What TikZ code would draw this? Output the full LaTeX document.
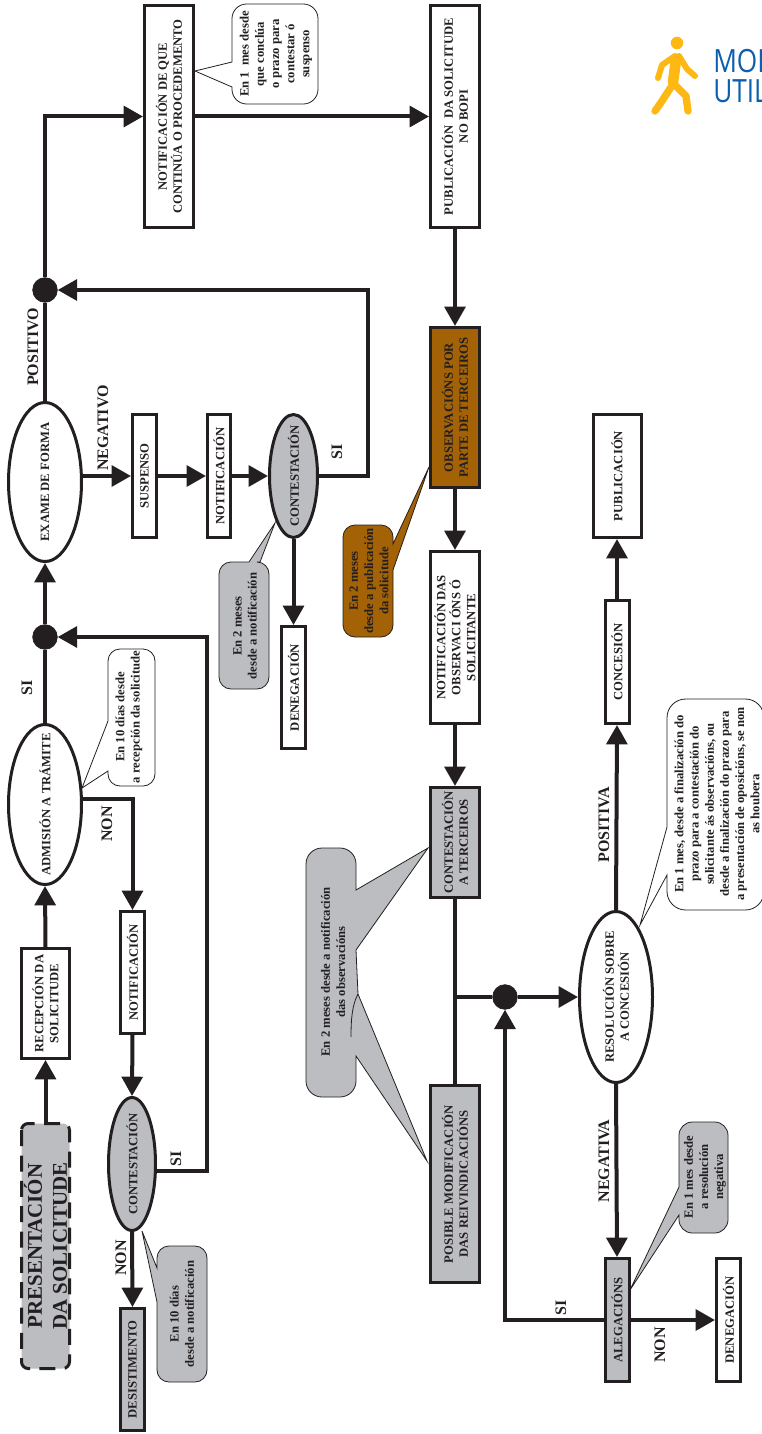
\documentclass[tikz,border=0pt]{standalone}
\usepackage{fontspec}
\setmainfont{Liberation Serif}
\newfontfamily\logofont[FakeStretch=0.82]{Open Sans}
\usetikzlibrary{arrows.meta,shapes.geometric}
\definecolor{ink}{HTML}{231F20}
\definecolor{pale}{HTML}{BBBDC0}
\definecolor{ochre}{HTML}{A46206}
\definecolor{walker}{HTML}{FDB813}
\definecolor{logoblue}{HTML}{0B5FAD}
\newcommand\zw[1]{\makebox[0pt]{#1}}
\tikzset{
  x=0.75pt,y=-0.75pt,
  sz/.style n args={2}{minimum width=#1*0.75pt-2.25pt,minimum height=#2*0.75pt-2.25pt},
  basenode/.style={rotate=90,inner sep=0pt,align=center,text=ink,line width=2.25pt,draw=ink,
    font=\fontsize{9.5}{11.25}\selectfont\bfseries},
  bx/.style={basenode,rectangle,fill=white},
  bxpale/.style={bx,fill=pale},
  bxochre/.style={bx,fill=ochre},
  ell/.style={basenode,ellipse,fill=white},
  ellpale/.style={ell,fill=pale},
  dot/.style={circle,fill=ink,draw=ink,line width=0.5pt,minimum size=18.5pt,inner sep=0pt},
  flow/.style={line width=3pt,draw=ink,line join=miter},
  arr/.style={flow,-{Triangle[length=14.5pt,width=15.5pt]}},
  lbl/.style={rotate=90,inner sep=0pt,text=ink,font=\fontsize{12}{14}\selectfont\bfseries},
  notetext/.style={rotate=90,inner sep=0pt,align=center,text=ink,
    font=\fontsize{9.5}{11.4}\selectfont\bfseries},
  cw/.style={draw=ink,line width=0.6pt,fill=white,line join=miter},
  cp/.style={cw,fill=pale},
  co/.style={cw,fill=ochre},
  limb/.style={draw=walker,line cap=round,line join=round},
}
\begin{document}
\begin{tikzpicture}
\useasboundingbox (0,0) rectangle (761,1434);
% callouts
\draw[cw] (232,62) [rounded corners=11pt] -- (232,4) -- (318,4) -- (318,104) -- (232,104) [sharp corners] -- (232,87) -- (195,71) -- cycle;
\draw[cw] (108,721) [rounded corners=9pt] -- (108,649) -- (155,649) -- (155,786) -- (108,786) [sharp corners] -- (108,771) -- (82,788) -- cycle;
\draw[cp] (249,562) [rounded corners=9pt] -- (219,562) -- (219,689) -- (269,689) -- (269,562) [sharp corners] -- (260,562) -- (275,523) -- cycle;
\draw[cp] (157,1268) [rounded corners=9pt] -- (157,1246) -- (207,1246) -- (207,1382) -- (157,1382) [sharp corners] -- (157,1302) -- (142,1231) -- cycle;
\draw[co] (393,544) [rounded corners=9pt] -- (393,525) -- (343,525) -- (343,637) -- (393,637) [sharp corners] -- (393,570) -- (429,467) -- cycle;
\draw[cp] (356,890) -- (428,848) -- (356,950) -- (358,994) -- (427,1161) -- (356,1056) [rounded corners=12pt] -- (356,1097) -- (306,1097) -- (306,848) -- (356,848) [sharp corners] -- cycle;
\draw[draw=ink,line width=0.6pt] (358,994) .. controls (352,1005) and (351,1020) .. (351,1037);
\draw[cw] (667,827) [rounded corners=14pt] -- (667,699) -- (764,699) -- (764,910) -- (667,910) [sharp corners] -- (667,875) -- (640,925) -- cycle;
\draw[cp] (679,1187) [rounded corners=10pt] -- (679,1122) -- (728,1122) -- (728,1233) -- (679,1233) [sharp corners] -- (679,1215) -- (630,1290) -- cycle;
% callout texts
\node[notetext] (t1) at (276,54) {En 1 \ mes desde\\que conclúa\\o prazo para\\contestar ó\\suspenso};
\node[notetext] (t2) at (129,717) {En 10 días desde\\a recepción da solicitude};
\node[notetext] (t3) at (245,626) {En 2 meses\\desde a notificación};
\node[notetext] (t4) at (182,1314) {En 10 días\\desde a notificación};
\node[notetext] (t5) at (369,581) {En 2 meses\\desde a publicación\\da solicitude};
\node[notetext] (t6) at (333,972) {En 2 meses desde a notificación\\das observacións};
\node[notetext] (t7) at (717,804) {En 1 mes, desde a finalización do\\prazo para a contestación do\\solicitante ás observacións, ou\\desde a finalización do prazo para\\a presentación de oposicións, se non\\as houbera};
\node[notetext] (t8) at (705,1177) {En 1 mes desde\\a resolución\\negativa};
% nodes
\node[bxpale,sz={248}{51},dash pattern=on 12pt off 7pt,rounded corners=5pt,font=\fontsize{15.7}{18.9}\selectfont\bfseries] (pres) at (45.5,1246) {PRESENTACIÓN\\DA SOLICITUDE};
\node[bx,sz={113}{51}] (rec) at (45.5,1003.5) {RECEPCIÓN DA\\SOLICITUDE};
\node[ell,sz={163}{76}] (adm) at (45,804.5) {\zw{ADMISIÓN A TRÁMITE}};
\node[dot] (j1) at (45,637) {};
\node[ell,sz={162}{76}] (ex) at (45,482) {\zw{EXAME DE FORMA}};
\node[dot] (j2) at (45,290) {};
\node[bx,sz={225}{52}] (nc) at (169,116.5) {NOTIFICACIÓN DE QUE\\CONTINÚA O PROCEDEMENTO};
\node[bx,sz={225}{52}] (pb) at (455,116.5) {PUBLICACIÓN \ DA SOLICITUDE\\NO BOPI};
\node[bxochre,sz={163}{52}] (ob) at (455,407.5) {OBSERVACIÓNS POR\\PARTE DE TERCEIROS};
\node[bx,sz={175}{52}] (nd) at (455,637.5) {NOTIFICACIÓN DAS\\OBSERVACI ÓNS Ó\\SOLICITANTE};
\node[bxpale,sz={113}{52}] (ct) at (455,842.5) {CONTESTACIÓN\\A TERCEIROS};
\node[bxpale,sz={200}{52}] (pm) at (455,1184) {POSIBLE MODIFICACIÓN\\DAS REIVINDICACIÓNS};
\node[bx,sz={126}{27}] (su) at (144.5,476) {SUSPENSO};
\node[bx,sz={126}{26}] (n2) at (219,476) {NOTIFICACIÓN};
\node[ellpale,sz={126}{51}] (c1) at (293.5,476) {\zw{CONTESTACIÓN}};
\node[bx,sz={125}{27}] (d1) at (293.5,687.5) {DENEGACIÓN};
\node[bx,sz={125}{27}] (n1) at (132.5,972.5) {NOTIFICACIÓN};
\node[ellpale,sz={136}{50}] (c2) at (132,1164) {\zw{CONTESTACIÓN}};
\node[bxpale,sz={125}{27}] (de) at (132.5,1369.5) {DESISTIMENTO};
\node[bx,sz={126}{51}] (pu) at (617,476) {PUBLICACIÓN};
\node[bx,sz={126}{27}] (cn) at (617,662) {CONCESIÓN};
\node[ell,sz={174}{76}] (rs) at (616,997) {\zw{RESOLUCIÓN SOBRE}\\\zw{A CONCESIÓN}};
\node[dot] (j3) at (505,997) {};
\node[bxpale,sz={126}{27}] (al) at (617,1320) {ALEGACIÓNS};
\node[bx,sz={126}{27}] (d2) at (728.5,1320) {DENEGACIÓN};
% free coordinates
\coordinate (admout) at (83,799);
\coordinate (c2out) at (157,1171);
\coordinate (b1) at (207,1171);
\coordinate (b2) at (368,476);
\coordinate (t0) at (455,997);
% connectors
\draw[arr] (pres.east) -- (rec.west);
\draw[arr] (rec.east) -- (adm.west);
\draw[flow] (adm.east) -- (j1);
\draw[arr] (j1) -- (ex.west);
\draw[flow] (ex.east) -- (j2);
\draw[arr] (j2) |- (nc.north);
\draw[arr] (nc.south) -- (pb.north);
\draw[arr] (pb.west) -- (ob.east);
\draw[arr] (ob.west) -- (nd.east);
\draw[arr] (nd.west) -- (ct.east);
\draw[flow] (ct.west) -- (pm.east);
\draw[flow] (t0) -- (j3);
\draw[arr] (j3) -- (rs.north);
\draw[arr] (rs.east) -- (cn.west);
\draw[arr] (cn.east) -- (pu.west);
\draw[arr] (rs.west) -- (al.east);
\draw[arr] (al.south) -- (d2.north);
\draw[arr] (al.north) -| (j3.south);
\draw[arr] (su.north -| ex.south) -- (su.north);
\draw[arr] (su.south) -- (n2.north);
\draw[arr] (n2.south) -- (c1.north);
\draw[arr] (c1.west) -- (d1.east);
\draw[arr] (c1.south) -- (b2) |- (j2.east);
\draw[arr] (admout) -| (n1.east);
\draw[arr] (n1.west) -- (c2.east);
\draw[arr] (c2.west) -- (de.east);
\draw[arr] (c2out) -- (b1) |- (j1.east);
% labels
\node[lbl] (l1) at (27,688) {SI};
\node[lbl] (l2) at (33,347) {POSITIVO};
\node[lbl] (l3) at (103,428) {NEGATIVO};
\node[lbl] (l4) at (107,824) {NON};
\node[lbl] (l5) at (337,452) {SI};
\node[lbl] (l6) at (121,1258) {NON};
\node[lbl] (l7) at (176,1159) {SI};
\node[lbl] (l8) at (604,825) {POSITIVA};
\node[lbl] (l9) at (604,1161) {NEGATIVA};
\node[lbl] (l10) at (561,1308) {SI};
\node[lbl] (l11) at (660,1345) {NON};
% logo
\fill[walker] (677,43) circle (4.7pt);
\draw[limb,line width=8pt] (676,60) -- (673,82);
\draw[limb,line width=4.5pt] (675,56) -- (662,65) -- (658,78);
\draw[limb,line width=4.5pt] (679,56) -- (687,69) -- (695,76);
\draw[limb,line width=5.5pt] (673,84) -- (662,101) -- (655,111);
\draw[limb,line width=5.5pt] (674,84) -- (686,96) -- (688,111);
\begin{scope}
\clip (700,30) rectangle (761,115);
\node[anchor=base west,inner sep=0pt,text=logoblue,font=\logofont\fontsize{24}{24}\selectfont] (m1) at (713,73) {MOD};
\node[anchor=base west,inner sep=0pt,text=logoblue,font=\logofont\fontsize{24}{24}\selectfont] (m2) at (713,103) {UTIL};
\end{scope}
\end{tikzpicture}
\end{document}
